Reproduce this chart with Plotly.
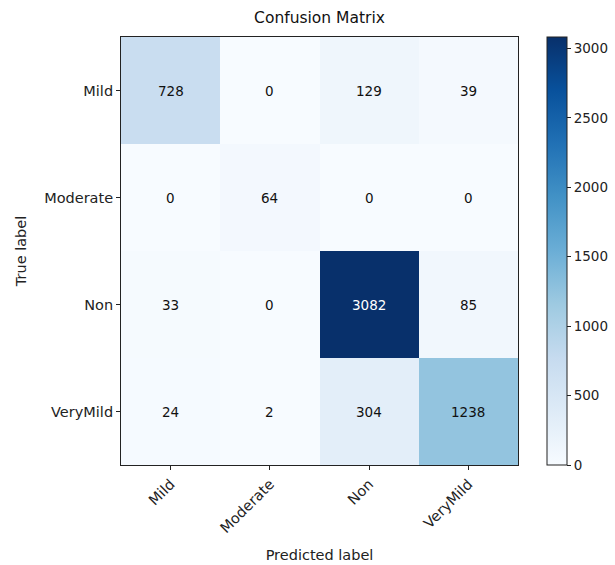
import plotly.graph_objects as go

labels = ["Mild", "Moderate", "Non", "VeryMild"]
matrix = [
    [728, 0, 129, 39],
    [0, 64, 0, 0],
    [33, 0, 3082, 85],
    [24, 2, 304, 1238],
]
cbar_ticks = [0, 500, 1000, 1500, 2000, 2500, 3000]

blues = ["#f7fbff", "#deebf7", "#c6dbef", "#9ecae1", "#6baed6",
         "#4292c6", "#2171b5", "#08519c", "#08306b"]
colorscale = [[i / (len(blues) - 1), c] for i, c in enumerate(blues)]

zmax = max(max(r) for r in matrix)
thresh = zmax / 2
FONT = "DejaVu Sans"

fig = go.Figure()
fig.add_trace(go.Heatmap(
    z=matrix, x=labels, y=labels,
    colorscale=colorscale, zmin=0, zmax=zmax,
    colorbar=dict(
        thickness=20, len=1, lenmode="fraction", y=0.5, yanchor="middle",
        x=1.073, xanchor="left", xpad=0, ypad=0,
        outlinecolor="#222", outlinewidth=1,
        tickvals=cbar_ticks, ticks="outside", ticklen=4, tickcolor="#222",
        tickfont=dict(family=FONT, size=13.5, color="#222"),
    ),
    hoverinfo="skip",
))

for i, row in enumerate(matrix):
    for j, v in enumerate(row):
        fig.add_annotation(
            x=labels[j], y=labels[i], text=str(v), showarrow=False,
            font=dict(family=FONT, size=13.5,
                      color="white" if v > thresh else "#111"),
        )

fig.update_layout(
    width=615, height=565,
    margin=dict(l=121, r=97, t=37, b=100, autoexpand=False),
    paper_bgcolor="white", plot_bgcolor="white",
    title=dict(text="Confusion Matrix", x=(121 + 518) / 2 / 615, xanchor="center",
               y=1 - 18 / 565, yanchor="middle",
               font=dict(family=FONT, size=15.5, color="#111")),
    font=dict(family=FONT, size=14, color="#222"),
)
fig.update_xaxes(
    title=dict(text="Predicted label", font=dict(size=14.5, color="#222"), standoff=14),
    tickangle=-45, ticks="outside", ticklen=4, tickcolor="#222",
    tickfont=dict(size=14.5),
    showline=True, linecolor="#222", linewidth=1, mirror=True,
    showgrid=False, zeroline=False, automargin=False,
)
fig.update_yaxes(
    title=dict(text="True label", font=dict(size=14.5, color="#222"), standoff=14),
    autorange="reversed", ticks="outside", ticklen=4, tickcolor="#222",
    tickfont=dict(size=14.5),
    showline=True, linecolor="#222", linewidth=1, mirror=True,
    showgrid=False, zeroline=False, automargin=False,
)

fig.write_html("out.html", config={"displayModeBar": False},
               post_script="document.body.style.margin='0';document.body.style.overflow='hidden';")
